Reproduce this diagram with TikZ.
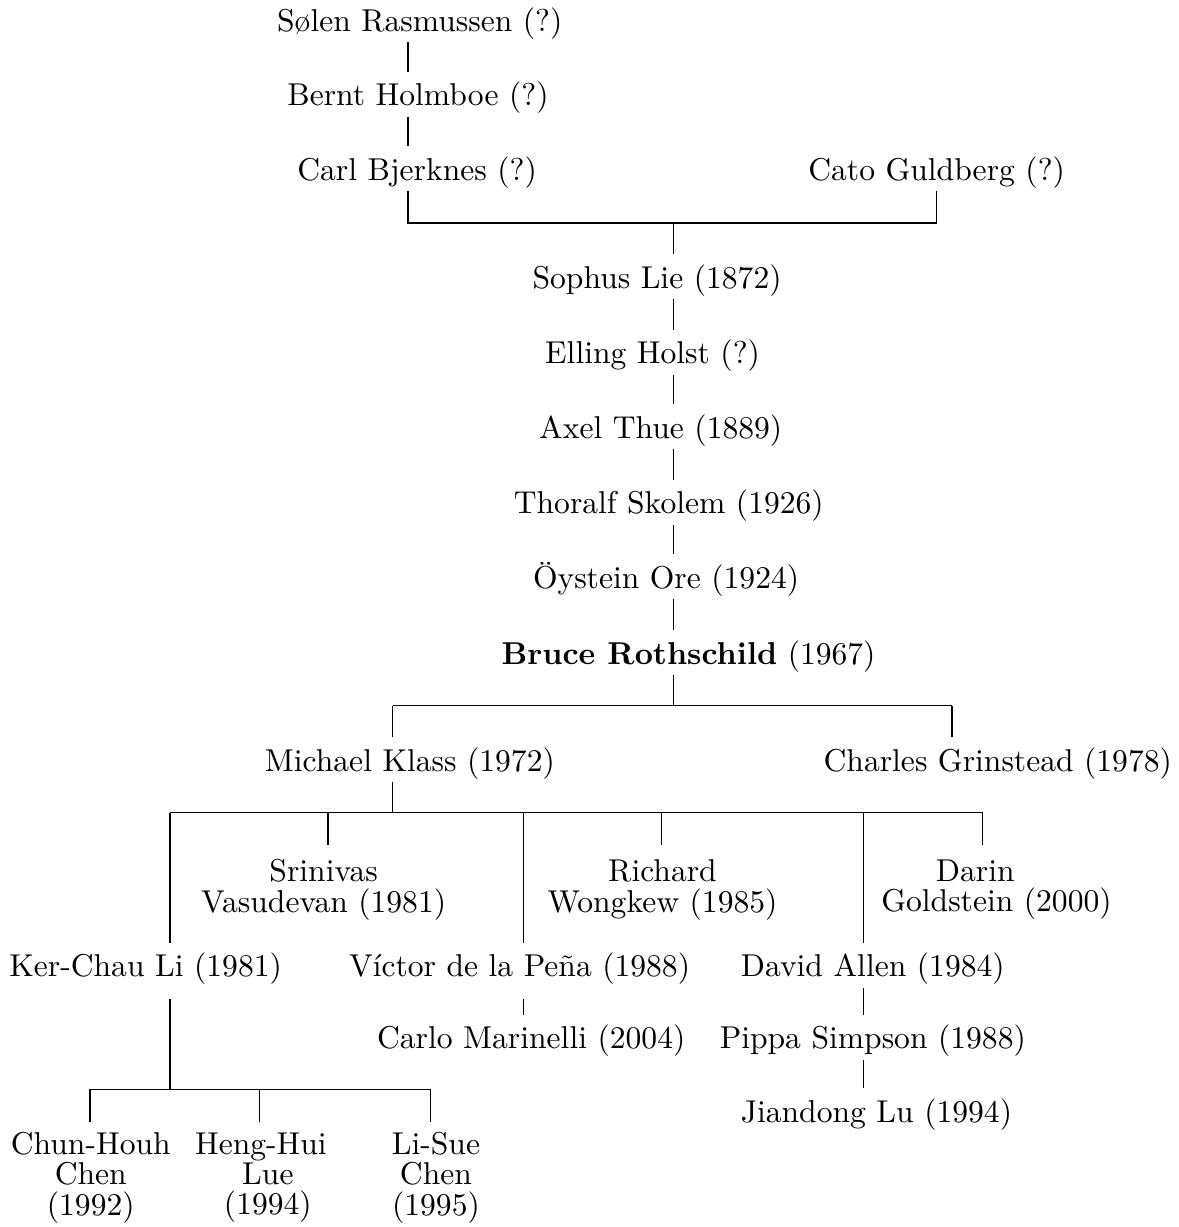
\documentclass[tikz,border=0pt]{standalone}
\usepackage{fontspec}
\usepackage{tikz}
\usetikzlibrary{calc}

\tikzset{
	member/.style={inner xsep=0pt, inner ysep=0.7pt, align=center, font=\fontsize{10}{9.6}\selectfont},
	oneline/.style={member, text height=7.5pt, text depth=2.5pt},
	link/.style={shorten >=2.4pt},
}

\begin{document}
\begin{tikzpicture}
	\useasboundingbox (0,0) rectangle (13.11,-13.65);

	%before Lie
	\node[oneline] (soelen) at (4.67,-0.26) {Sølen Rasmussen (?)};
	\node[oneline] (bernt)  at (4.65,-1.09) {Bernt Holmboe (?)};
	\node[oneline] (carl)   at (4.64,-1.92) {Carl Bjerknes (?)};
	\node[oneline] (cato)   at (10.42,-1.92) {Cato Guldberg (?)};

	%trunk
	\node[oneline] (lie)        at (7.31,-3.12) {Sophus Lie (1872)};
	\node[oneline] (holst)      at (7.26,-3.96) {Elling Holst (?)};
	\node[oneline] (thue)       at (7.35,-4.79) {Axel Thue (1889)};
	\node[oneline] (skolem)     at (7.44,-5.63) {Thoralf Skolem (1926)};
	\node[oneline] (ore)        at (7.41,-6.46) {Öystein Ore (1924)};
	\node[oneline] (rothschild) at (7.66,-7.30) {\textbf{Bruce Rothschild} (1967)};

	%students and descendants
	\node[oneline] (klass)     at (4.56,-8.49) {Michael Klass (1972)};
	\node[oneline] (grinstead) at (11.10,-8.49) {Charles Grinstead (1978)};
	\node[member]  (vasudevan) at (3.60,-9.90) {Srinivas\\Vasudevan (1981)};
	\node[member]  (wongkew)   at (7.37,-9.90) {Richard\\Wongkew (1985)};
	\node[member, text width=59.5pt] (goldstein) at (10.85,-9.90) {Darin\\Goldstein~(2000)};
	\node[oneline] (kerchau)   at (1.62,-10.78) {Ker-Chau Li (1981)};
	\node[oneline] (pena)      at (5.78,-10.78) {Víctor de la Peña (1988)};
	\node[oneline] (allen)     at (9.71,-10.78) {David Allen (1984)};
	\node[oneline] (marinelli) at (5.91,-11.58) {Carlo Marinelli (2004)};
	\node[oneline] (simpson)   at (9.71,-11.58) {Pippa Simpson (1988)};
	\node[oneline] (lu)        at (9.75,-12.40) {Jiandong Lu (1994)};
	\node[member]  (chen1)     at (1.01,-13.10) {Chun-Houh\\Chen\\(1992)};
	\node[member]  (lue)       at (2.98,-13.10) {Heng-Hui\hspace*{4.4pt}\\Lue\\(1994)};
	\node[member]  (chen2)     at (4.85,-13.10) {Li-Sue\\Chen\\(1995)};

	%bar corners
	\coordinate (c0) at (4.54,-2.48);
	\coordinate (j1) at (7.49,-2.48);
	\coordinate (l2) at (4.37,-7.85);
	\coordinate (j2) at (7.49,-7.85);
	\coordinate (r2) at (10.59,-7.85);
	\coordinate (d1) at (1.89,-9.04);	%Li
	\coordinate (d2) at (3.65,-9.04);	%Vasudevan
	\coordinate (d3) at (5.82,-9.04);	%de la Pena
	\coordinate (d4) at (7.36,-9.04);	%Wongkew
	\coordinate (d5) at (9.61,-9.04);	%Allen
	\coordinate (d6) at (10.93,-9.04);	%Goldstein
	\coordinate (e1) at (1.00,-12.12);
	\coordinate (e2) at (2.89,-12.12);
	\coordinate (e3) at (4.79,-12.12);

	%top lines
	\draw[link] (soelen.south -| c0) -- (bernt.north -| c0);
	\draw[link] (bernt.south -| c0) -- (carl.north -| c0);
	\draw (carl.south -| c0) -- (c0) -| (cato.south);
	\draw[link] (j1) -- (lie.north -| j1);
	\foreach \a/\b in {lie/holst, holst/thue, thue/skolem, skolem/ore, ore/rothschild}
		\draw[link] (\a.south -| j1) -- (\b.north -| j1);

	%Rothschild's students
	\draw (rothschild.south -| j2) -- (j2);
	\draw (l2) -- (r2);
	\draw[link] (l2) -- (klass.north -| l2);
	\draw[link] (r2) -- (grinstead.north -| r2);

	%Klass's students
	\draw (klass.south -| l2) -- (l2 |- d1);
	\draw (d1) -- (d6);
	\draw[link] (d1) -- (kerchau.north -| d1);
	\draw[link] (d3) -- (pena.north -| d3);
	\draw[link] (d5) -- (allen.north -| d5);
	\foreach \c/\who in {d2/vasudevan, d4/wongkew, d6/goldstein}
		\draw[shorten >=3.8pt] (\c) -- (\who.north -| \c);

	%further down
	\draw[link, shorten <=3.5pt] (pena.south -| d3) -- (marinelli.north -| d3);
	\draw[link] (allen.south -| d5) -- (simpson.north -| d5);
	\draw[link] (simpson.south -| d5) -- (lu.north -| d5);
	\draw[shorten <=3.5pt] (kerchau.south -| d1) -- (d1 |- e1);
	\draw (e1) -- (e3);
	\foreach \c/\who in {e1/chen1, e2/lue, e3/chen2}
		\draw[link] (\c) -- (\who.north -| \c);
\end{tikzpicture}
\end{document}
